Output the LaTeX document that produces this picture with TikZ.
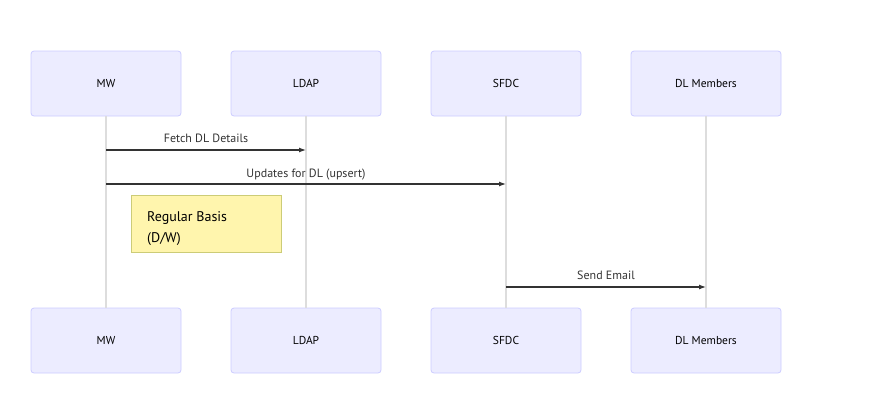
\documentclass[tikz,border=0pt]{standalone}
\usepackage{fontspec}
\setmainfont{PT Sans}
\usetikzlibrary{arrows.meta}
\definecolor{actfill}{HTML}{ECECFF}
\definecolor{actdraw}{HTML}{CCCCFF}
\definecolor{notefill}{HTML}{FFF5AD}
\definecolor{notedraw}{HTML}{CCCC77}
\definecolor{lifecol}{HTML}{DDDDDD}
\definecolor{msgcol}{HTML}{333333}
\tikzset{
  actor/.style={draw=actdraw, fill=actfill, rounded corners=3pt, minimum width=150pt, minimum height=65pt, inner sep=0pt, font=\fontsize{11.5}{13}\selectfont, line width=0.8pt},
  life/.style={draw=lifecol, line width=1.2pt},
  msg/.style={draw=msgcol, line width=1.2pt, -{Latex[length=7pt,width=5pt]}},
  lbl/.style={font=\fontsize{12}{14}\selectfont, text=msgcol, inner sep=0pt},
  notetext/.style={anchor=west, font=\fontsize{14}{16}\selectfont, inner sep=0pt},
  note/.style={draw=notedraw, fill=notefill, line width=0.8pt, minimum width=150pt, minimum height=57pt, inner sep=0pt}
}
\begin{document}
\begin{tikzpicture}[x=1pt,y=-1pt]
\useasboundingbox (0,0) rectangle (871,416);
\foreach \n/\t/\x in {mw/MW/106, ldap/LDAP/306, sfdc/SFDC/506, dl/DL Members/706}{
  \node[actor] (\n t) at (\x,83.5) {\t};
  \node[actor] (\n b) at (\x,340.5) {\t};
  \draw[life] (\n t.south) -- (\n b.north);
}
\coordinate (m1s) at (106,150); \coordinate (m1e) at (306,150);
\draw[msg] (m1s) -- (m1e) node[lbl, midway, above=7pt] {Fetch DL Details};
\coordinate (m2s) at (106,184); \coordinate (m2e) at (506,184);
\draw[msg] (m2s) -- (m2e) node[lbl, midway, above=3pt] {Updates for DL (upsert)};
\node[note] (nt) at (206,223.5) {};
\node[notetext] (n1) at (147,218) {Regular Basis};
\node[notetext] (n2) at (147,239) {(D/W)};
\coordinate (m3s) at (506,287); \coordinate (m3e) at (706,287);
\draw[msg] (m3s) -- (m3e) node[lbl, midway, above=7pt] {Send Email};
\end{tikzpicture}
\end{document}
